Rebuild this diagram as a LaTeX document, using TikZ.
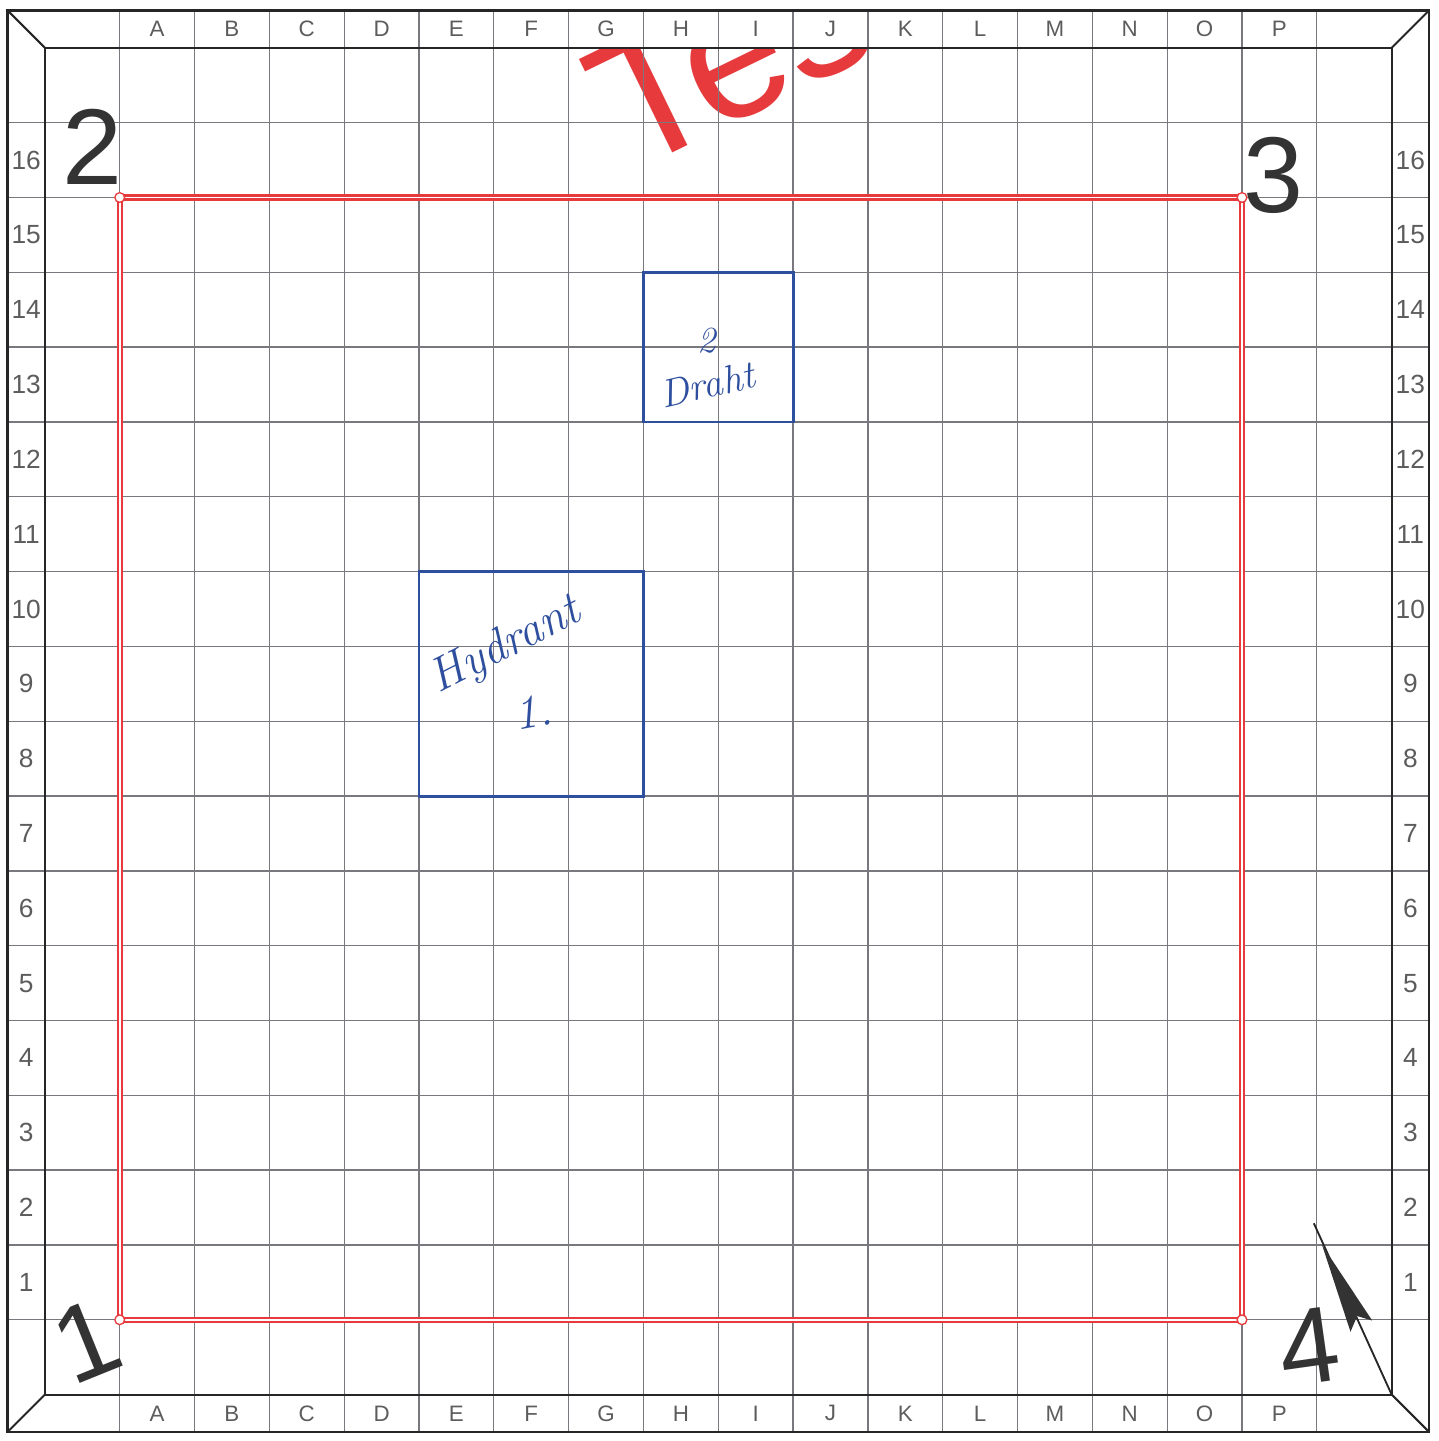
\documentclass[tikz,border=0pt]{standalone}
\usepackage{fontspec}
\usepackage{tikz}
\usetikzlibrary{arrows.meta,positioning}
\newfontfamily\labelfont{Liberation Sans}
\definecolor{ink}{HTML}{2E4E9E}
\definecolor{signal}{HTML}{E63A3C}
\definecolor{rule}{HTML}{78787E}
\definecolor{caption}{HTML}{5C5C5C}

\begin{document}
\begin{tikzpicture}[x=1cm,y=1cm,gridline/.style={draw=rule,line width=0.5pt},frame/.style={draw=black!85,line width=0.8pt},coord/.style={font=\labelfont\fontsize{8.5}{9}\selectfont,text=caption,inner sep=0pt},rownum/.style={font=\labelfont\fontsize{10}{10}\selectfont,text=caption,inner sep=0pt},corner/.style={font=\labelfont\fontsize{41}{41}\selectfont,text=black!80,inner sep=0pt},area/.style={draw=signal,line width=0.8pt,double=white,double distance=0.7pt},vertex/.style={circle,draw=signal,fill=white,line width=0.5pt,inner sep=0pt,minimum size=1.3mm},plot/.style={draw=ink,line width=1.1pt,inner sep=0pt},hand/.style={font=\itshape\fontsize{18}{18}\selectfont,text=ink,inner sep=0pt},stamp/.style={font=\labelfont\fontsize{69}{69}\selectfont,text=signal,inner sep=0pt}]
\useasboundingbox (-0.6,-0.62) rectangle (18.62,18.64);
% red stamp, cut at the sheet edge
\begin{scope}
\clip (0,0) rectangle (18,18);
\node[stamp,rotate=26,anchor=base west] (test) at (7.82,16.32) {Test};
\end{scope}
% grid and frame
\foreach \i in {1,...,17} {
\draw[gridline] (\i,-0.5) -- (\i,18.5);
\draw[gridline] (-0.5,\i) -- (18.5,\i);
}
\draw[frame] (-0.5,-0.5) rectangle (18.5,18.5);
\draw[frame] (0,0) rectangle (18,18);
\draw[frame] (-0.5,-0.5) -- (0,0);
\draw[frame] (-0.5,18.5) -- (0,18);
\draw[frame] (18.5,18.5) -- (18,18);
\draw[frame] (18.5,-0.5) -- (18,0);
\foreach \c [count=\k] in {A,B,C,D,E,F,G,H,I,J,K,L,M,N,O,P} {
\node[coord] (top\c) at (\k+0.5,18.25) {\c};
\node[coord] (bot\c) at (\k+0.5,-0.25) {\c};
}
\foreach \r in {1,...,16} {
\node[rownum] (west\r) at (-0.25,\r+0.5) {\r};
\node[rownum] (east\r) at (18.25,\r+0.5) {\r};
}
% plot area
\coordinate (p1) at (1,1);
\coordinate (p2) at (1,16);
\coordinate (p3) at (16,16);
\coordinate (p4) at (16,1);
\draw[area] (p1) -- (p2) -- (p3) -- (p4) -- cycle;
\foreach \n in {1,...,4} \node[vertex] (dot\n) at (p\n) {};
\node[corner,rotate=22] (lab1) at (0.55,0.72) {1};
\node[corner] (lab2) at (0.64,16.68) {2};
\node[corner] (lab3) at (16.42,16.3) {3};
\node[corner,rotate=8] (lab4) at (16.9,0.64) {4};
% hand drawn boxes
\node[plot,minimum width=3cm,minimum height=3cm] (hydrant) at (6.5,9.5) {};
\node[plot,minimum width=2cm,minimum height=2cm] (wire) at (9,14) {};
\node[hand,rotate=27] (hydlabel) at (6.16,10.0) {Hydrant};
\node[hand,rotate=10] (hydnum) at (6.52,9.13) {1.};
\node[hand,font=\itshape\fontsize{14}{14}\selectfont] (wirenum) at (8.84,14.09) {2};
\node[hand,rotate=13,font=\itshape\fontsize{15}{15}\selectfont] (wirelabel) at (8.85,13.5) {Draht};
% north arrow
\coordinate (tail) at (18,0);
\coordinate (head) at (16.96,2.29);
\coordinate (tip) at (17.07,2.0);
\coordinate (barbl) at (17.45,0.84);
\coordinate (notch) at (17.54,1.05);
\coordinate (barbr) at (17.74,0.99);
\draw[frame,line width=0.7pt] (tail) -- (head);
\fill[black!80] (tip) -- (barbl) -- (notch) -- (barbr) -- cycle;
\end{tikzpicture}
\end{document}
